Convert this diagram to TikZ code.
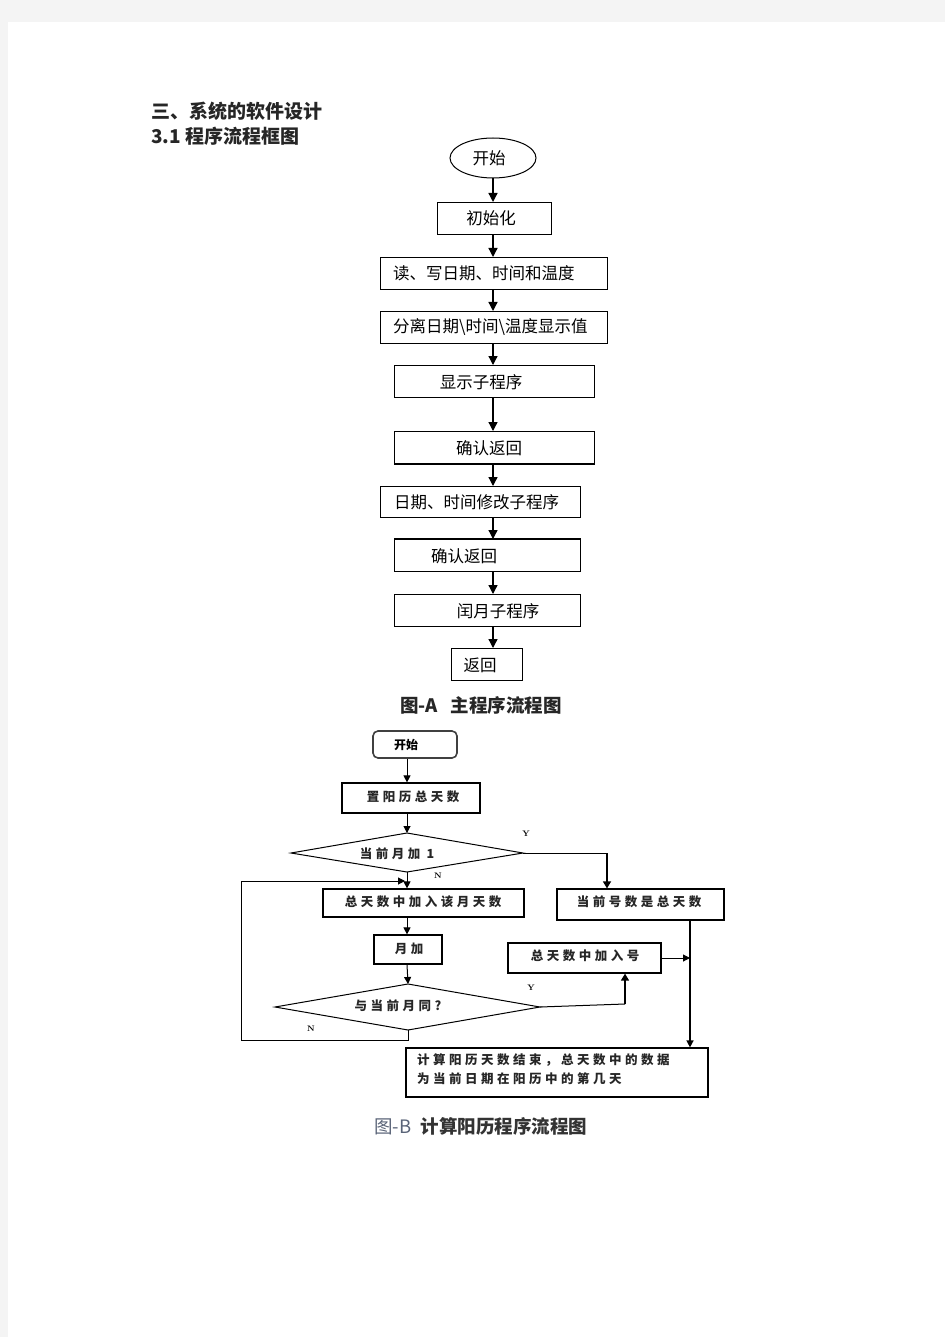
\documentclass[tikz,border=0pt]{standalone}
\usepackage{fontspec}
\newfontfamily\cjk{Noto Sans CJK SC}
\newfontfamily\cjkw[LetterSpace=28]{Noto Sans CJK SC}
\usetikzlibrary{arrows.meta,shapes.geometric}
\definecolor{pagegray}{HTML}{F4F4F4}
\definecolor{capblue}{HTML}{5A6478}
\begin{document}
\begin{tikzpicture}[x=1pt,y=-1pt,
  boxa/.style={draw, line width=1.3pt, anchor=north west, inner sep=0pt},
  boxb/.style={draw, line width=1.2pt, inner sep=0pt},
  txta/.style={font=\cjk\fontsize{16.5}{16.5}\selectfont, inner sep=0pt},
  txtb/.style={font=\cjkw\bfseries\fontsize{12.5}{19}\selectfont, text=black!85, inner sep=0pt},
  yn/.style={font=\fontsize{8}{8}\selectfont\bfseries, inner sep=0pt},
  head/.style={font=\cjk\bfseries\fontsize{19}{19}\selectfont, inner sep=0pt, anchor=west},
  arra/.style={line width=1.3pt, -{Triangle[length=9pt,width=9pt]}},
  arrb/.style={line width=1pt, -{Triangle[length=7pt,width=7pt]}},
  lineb/.style={line width=1pt}]
% page
\fill[pagegray] (0,0) rectangle (945,1337);
\fill[white] (8,22) rectangle (945,1337);
\useasboundingbox (0,0) rectangle (945,1337);

% headings
\node[head, text=black!85] (h1) at (151,111) {三、系统的软件设计};
\node[head, text=black!85] (h2) at (151,136) {3.1 程序流程框图};

% ---------------- Flowchart A ----------------
\coordinate (ax) at (493,0);
\node[draw, ellipse, line width=1pt, minimum width=86pt, minimum height=40pt, inner sep=0pt] (a0) at (493,158) {};
\node[txta] (a0t) at (489,158) {开始};

\node[boxa, minimum width=114pt, minimum height=32pt] (a1) at (437,202) {};
\node[txta] (a1t) at (491,218) {初始化};

\node[boxa, minimum width=227pt, minimum height=32pt] (a2) at (380,257) {};
\node[txta, anchor=west] (a2t) at (393,273) {读、写日期、时间和温度};

\node[boxa, minimum width=227pt, minimum height=32pt] (a3) at (380,311) {};
\node[txta, anchor=west] (a3t) at (393,327) {分离日期\textbackslash 时间\textbackslash 温度显示值};

\node[boxa, minimum width=200pt, minimum height=32pt] (a4) at (394,365) {};
\node[txta] (a4t) at (481,382) {显示子程序};

\node[boxa, minimum width=200pt, minimum height=32pt] (a5) at (394,431) {};
\draw[line width=2pt] (a5.south west) -- (a5.south east);
\node[txta] (a5t) at (489,448) {确认返回};

\node[boxa, minimum width=200pt, minimum height=31pt] (a6) at (380,486) {};
\node[txta, anchor=west] (a6t) at (394,502) {日期、时间修改子程序};

\node[boxa, minimum width=186pt, minimum height=32pt] (a7) at (394,539) {};
\draw[line width=2pt] (a7.north west) -- (a7.north east);
\node[txta] (a7t) at (464,556) {确认返回};

\node[boxa, minimum width=186pt, minimum height=32pt] (a8) at (394,594) {};
\node[txta] (a8t) at (498,611) {闰月子程序};

\node[boxa, minimum width=71pt, minimum height=32pt] (a9) at (451,648) {};
\node[txta] (a9t) at (480,665) {返回};

\draw[arra] (a0.south -| ax) -- (a1.north -| ax);
\draw[arra] (a1.south -| ax) -- (a2.north -| ax);
\draw[arra] (a2.south -| ax) -- (a3.north -| ax);
\draw[arra] (a3.south -| ax) -- (a4.north -| ax);
\draw[arra] (a4.south -| ax) -- (a5.north -| ax);
\draw[arra] (a5.south -| ax) -- (a6.north -| ax);
\draw[arra] (a6.south -| ax) -- (a7.north -| ax);
\draw[arra] (a7.south -| ax) -- (a8.north -| ax);
\draw[arra] (a8.south -| ax) -- (a9.north -| ax);

\node[head, font=\cjk\bfseries\fontsize{18.5}{18.5}\selectfont, text=black!85] (capa) at (400,705) {图-A\hspace{0.7em}主程序流程图};

% ---------------- Flowchart B ----------------
\coordinate (bx) at (407,0);
\node[draw, line width=1.6pt, draw=black!75, rounded corners=5pt, minimum width=84pt, minimum height=27pt, inner sep=0pt] (b0) at (415,744.5) {};
\node[inner sep=0pt, font=\cjk\bfseries\fontsize{12}{12}\selectfont] (b0t) at (406,745) {开始};

\node[boxb, minimum width=138pt, minimum height=30pt] (b1) at (411,798) {};
\node[txtb] (b1t) at (413,797) {置阳历总天数};

% diamond 1
\coordinate (d1t) at (407,833);
\coordinate (d1r) at (523,853);
\coordinate (d1b) at (407,872);
\coordinate (d1l) at (291,853);
\draw[lineb] (d1t) -- (d1r) -- (d1b) -- (d1l) -- cycle;
\node[txtb] (d1x) at (397,854) {当前月加 1};

\node[boxb, minimum width=201pt, minimum height=28pt] (b2) at (423.5,903) {};
\node[txtb] (b2t) at (423,902) {总天数中加入该月天数};

\node[boxb, minimum width=167pt, minimum height=31pt] (b3) at (640.5,904.5) {};
\node[txtb] (b3t) at (639,902) {当前号数是总天数};

\node[boxb, minimum width=68pt, minimum height=29pt] (b4) at (408,949.5) {};
\node[txtb] (b4t) at (409,949) {月加};

% diamond 2
\coordinate (d2t) at (408,984);
\coordinate (d2r) at (540,1007);
\coordinate (d2b) at (408,1030);
\coordinate (d2l) at (275,1007);
\draw[lineb] (d2t) -- (d2r) -- (d2b) -- (d2l) -- cycle;
\node[txtb] (d2x) at (398,1006) {与当前月同?};

\node[boxb, minimum width=153pt, minimum height=30pt] (b5) at (584.5,958) {};
\node[txtb] (b5t) at (585,956) {总天数中加入号};

\node[boxb, minimum width=302pt, minimum height=49pt] (b6) at (557,1072.5) {};
\node[txtb, anchor=north west, align=left] (b6t) at (417,1053) {计算阳历天数结束，总天数中的数据\\为当前日期在阳历中的第几天};

% connectors B
\coordinate (lp1) at (408,1040);
\coordinate (lp2) at (241,1040);
\coordinate (lp3) at (241,881);
\coordinate (lp4) at (405,881);
\coordinate (yr1) at (607,853);
\coordinate (yr2) at (625,1004);
\coordinate (rx) at (690,0);

\draw[arrb] (b0.south -| bx) -- (b1.north -| bx);
\draw[arrb] (b1.south -| bx) -- (d1t);
\draw[arrb] (d1b) -- (b2.north -| bx);
\draw[lineb] (d1r) -- (yr1);
\draw[line width=1.4pt, -{Triangle[length=7pt,width=8pt]}] (yr1) -- (b3.north -| yr1);
\draw[arrb] (b2.south -| bx) -- (b4.north -| bx);
\draw[arrb] (b4.south -| bx) -- (d2t);
\draw[lineb] (d2b) -- (lp1) -- (lp2) -- (lp3);
\draw[arrb] (lp3) -- (lp4);
\draw[lineb] (d2r) -- (yr2);
\draw[line width=1.4pt, -{Triangle[length=7pt,width=8pt]}] (yr2) -- (b5.south -| yr2);
\draw[arrb] (b5.east) -- (b5.east -| rx);
\draw[line width=1.4pt, -{Triangle[length=7pt,width=7pt]}] (b3.south -| rx) -- (b6.north -| rx);

\node[yn] (y1) at (526,834) {Y};
\node[yn] (n1) at (438,876) {N};
\node[yn] (y2) at (531,988) {Y};
\node[yn] (n2) at (311,1029) {N};

\node[font=\cjk\fontsize{18.5}{18.5}\selectfont, inner sep=0pt, anchor=west] (capb) at (374,1126) {\textcolor{capblue}{图-B}\hspace{0.5em}\textcolor{black!80}{\bfseries 计算阳历程序流程图}};
\end{tikzpicture}
\end{document}
